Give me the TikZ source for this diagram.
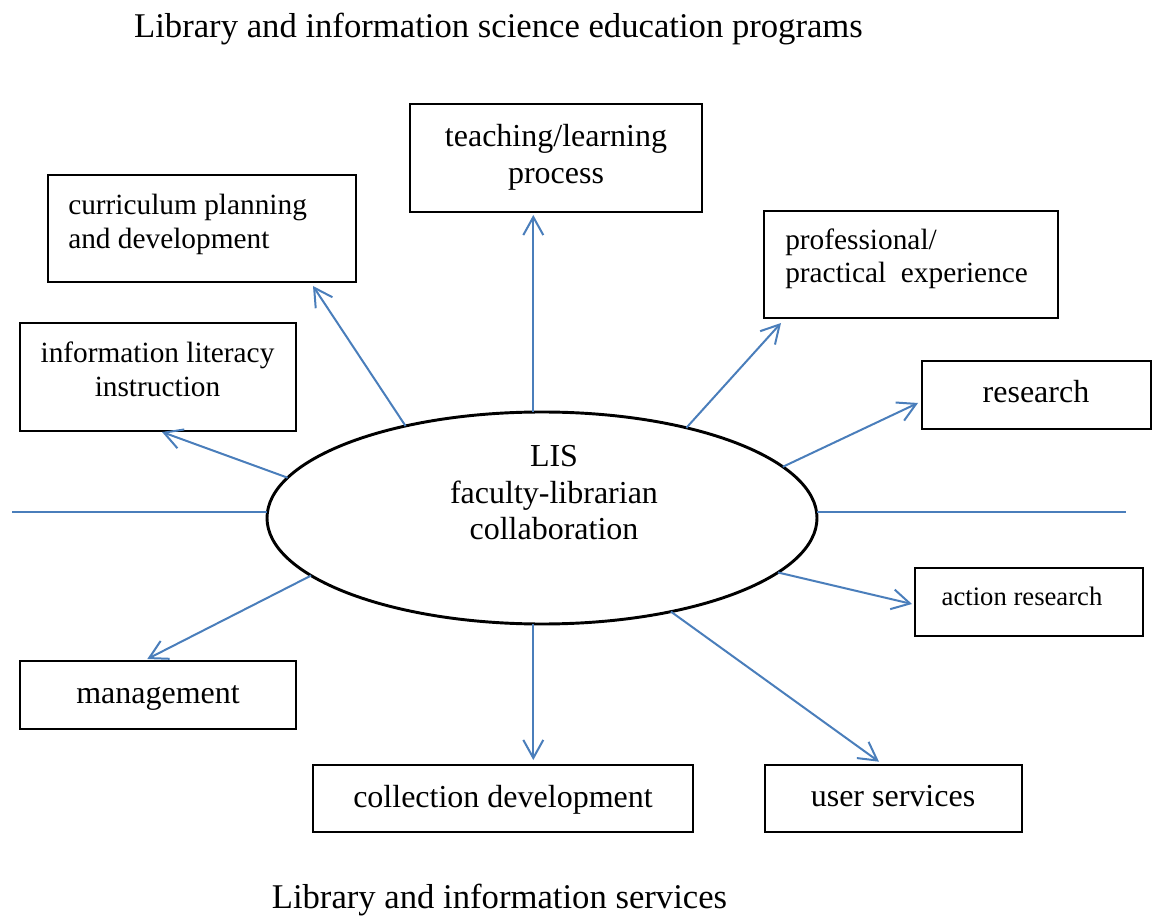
\documentclass[tikz,border=0pt]{standalone}
\usepackage{fontspec}
\setmainfont{Liberation Serif}
\usetikzlibrary{arrows.meta,shapes.geometric}
\definecolor{lineblue}{HTML}{4A7EBB}
\begin{document}
\begin{tikzpicture}[x=0.75pt,y=-0.75pt,
  box/.style={draw=black, line width=1.4pt, inner sep=0pt, rectangle},
  txt/.style={inner sep=0pt, align=center, font=\fontsize{24}{27.75}\selectfont},
  txts/.style={inner sep=0pt, align=center, font=\fontsize{22}{25.5}\selectfont},
  txtl/.style={inner sep=0pt, align=left, anchor=west, font=\fontsize{22}{25}\selectfont},
  ttl/.style={inner sep=0pt, font=\fontsize{26}{30}\selectfont},
  arr/.style={draw=lineblue, line width=1.5pt, -{Straight Barb[length=13.5pt,width=15pt,line width=1.5pt]}},
  conn/.style={draw=lineblue, line width=1.5pt}]
\useasboundingbox (0,0) rectangle (1153,919);

% titles
\node[ttl] (title1) at (498.5,29) {Library and information science education programs};
\node[ttl] (title2) at (499.5,900) {Library and information services};

% ellipse
\node[draw=black, line width=2.2pt, ellipse, inner sep=0pt, outer sep=0pt, minimum width=412.5pt, minimum height=159pt] (E) at (542,518) {};
\node[inner sep=0pt, align=center, font=\fontsize{24}{27.4}\selectfont] (Et) at (554,493) {LIS\\faculty-librarian\\collaboration};

% boxes
\node[box, minimum width=219pt, minimum height=81pt] (T) at (556,158) {};
\node[txt] (Tt) at (556,157) {teaching/learning\\process};

\node[box, minimum width=231pt, minimum height=80.25pt] (C) at (202,228.5) {};
\node[txtl] (Ct) at (68,224.5) {curriculum planning\\and development};

\node[box, minimum width=220.5pt, minimum height=80.25pt] (P) at (911,264.5) {};
\node[txtl] (Pt) at (785,259) {professional/\\practical\ \ experience};

\node[box, minimum width=207pt, minimum height=81pt] (I) at (158,377) {};
\node[txts] (It) at (157.5,369) {information literacy\\instruction};

\node[box, minimum width=171.75pt, minimum height=51pt] (R) at (1036.5,395) {};
\node[txt] (Rt) at (1036,392) {research};

\node[box, minimum width=171pt, minimum height=51pt] (A) at (1029,602) {};
\node[inner sep=0pt, font=\fontsize{20}{24}\selectfont] (At) at (1022,596) {action research};

\node[box, minimum width=207pt, minimum height=51pt] (M) at (158,695) {};
\node[txt] (Mt) at (158,697.5) {management};

\node[box, minimum width=285pt, minimum height=50.25pt] (CD) at (503,798.5) {};
\node[txt] (CDt) at (503,800) {collection development};

\node[box, minimum width=192.75pt, minimum height=50.25pt] (U) at (893.5,798.5) {};
\node[txt] (Ut) at (893,796) {user services};

% free ends
\coordinate (hl) at (12,512);
\coordinate (hr) at (1126,512);
\coordinate (tT) at (533.3,215);
\coordinate (tC) at (313,286);
\coordinate (tI) at (162,432);
\coordinate (tP) at (781,323);
\coordinate (tR) at (918,403);
\coordinate (tA) at (912,604);
\coordinate (tM) at (147.3,659);
\coordinate (tD) at (533.3,760);
\coordinate (tU) at (879,761.7);

% connectors
\draw[conn] (hl) -- (hl -| E.west);
\draw[conn] (hr -| E.east) -- (hr);
\draw[arr] (tT |- E.north) -- (tT);
\draw[arr] (E.146.76) -- (tC);
\draw[arr] (E.171.6) -- (tI);
\draw[arr] (E.32.87) -- (tP);
\draw[arr] (E.12.47) -- (tR);
\draw[arr] (E.347.04) -- (tA);
\draw[arr] (E.194.1) -- (tM);
\draw[arr] (tD |- E.south) -- (tD);
\draw[arr] (E.324.7) -- (tU);
\end{tikzpicture}
\end{document}
